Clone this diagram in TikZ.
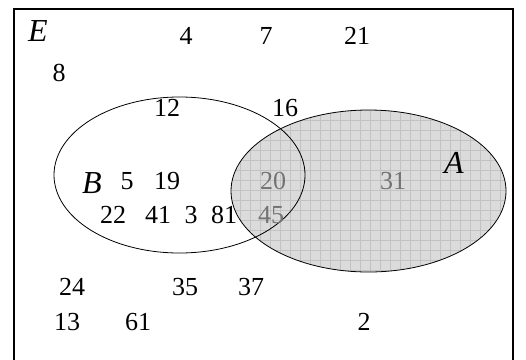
\documentclass[tikz,border=0pt]{standalone}
\usepackage{fontspec}
\setmainfont{Liberation Serif}
\begin{document}
\begin{tikzpicture}[x=1pt,y=-1pt,
  num/.style={inner sep=0pt,font=\fontsize{26}{30}\selectfont},
  numin/.style={num,text=black!55},
  setlbl/.style={inner sep=0pt,font=\fontsize{32}{36}\selectfont\itshape},
  setline/.style={draw=black,line width=0.8pt}]
\useasboundingbox (0,0) rectangle (526,359);
\begin{scope}
\clip (0,0) rectangle (526,359);
\draw[line width=1.8pt] (14,9) rectangle (513,380);
\end{scope}
% shaded set A
\fill[black!14] (368.5,191) ellipse [x radius=137.5pt, y radius=81pt];
\begin{scope}
\clip (368.5,191) ellipse [x radius=137.5pt, y radius=81pt];
\draw[black!24,line width=0.5pt,step=10pt] (220,100) grid (520,290);
\end{scope}
\draw[setline] (179.5,175) ellipse [x radius=125.5pt, y radius=78pt];
\draw[setline] (368.5,191) ellipse [x radius=137.5pt, y radius=81pt];
% labels
\node[setlbl] (lE) at (38,31) {E};
\node[setlbl] (lA) at (454,163) {A};
\node[setlbl] (lB) at (92,183) {B};
% numbers
\node[num] (n4) at (186,36) {4};
\node[num] (n7) at (266,36) {7};
\node[num] (n21) at (357,36) {21};
\node[num] (n8) at (59,73) {8};
\node[num] (n12) at (167,108) {12};
\node[num] (n16) at (285,108) {16};
\node[num] (n5) at (127,181) {5};
\node[num] (n19) at (167,181) {19};
\node[numin] (n20) at (273,181) {20};
\node[numin] (n31) at (393,181) {31};
\node[num] (n22) at (113,215) {22};
\node[num] (n41) at (158,215) {41};
\node[num] (n3) at (191,215) {3};
\node[num] (n81) at (224,215) {81};
\node[numin] (n45) at (271,215) {45};
\node[num] (n24) at (72,287) {24};
\node[num] (n35) at (185,287) {35};
\node[num] (n37) at (251,287) {37};
\node[num] (n13) at (67,322) {13};
\node[num] (n61) at (138,322) {61};
\node[num] (n2) at (364,322) {2};
\end{tikzpicture}
\end{document}
